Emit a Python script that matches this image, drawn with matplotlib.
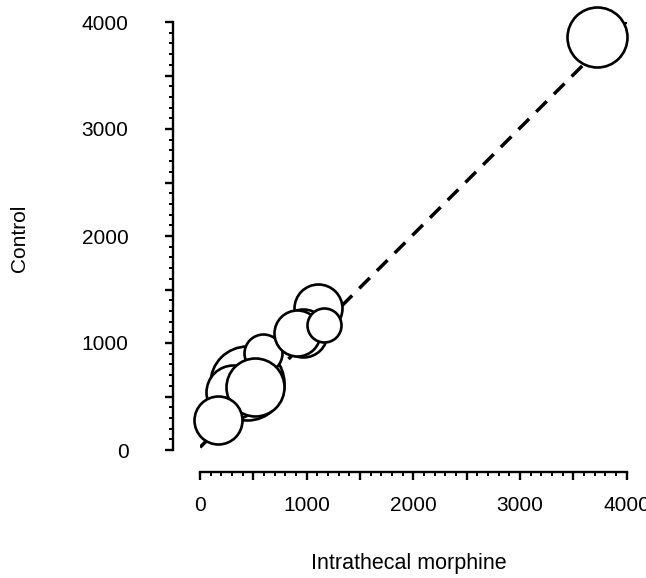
import matplotlib
matplotlib.use("Agg")
import matplotlib.pyplot as plt
from matplotlib.ticker import MultipleLocator, FuncFormatter

# bubble data (drawn back to front)
x_vals = [441, 309, 590, 516, 169, 1106, 966, 909, 1162, 3721]
y_vals = [626, 542, 907, 589, 280, 1327, 1093, 1093, 1168, 3860]
radius_px = [37, 27, 19, 29, 24, 24, 24, 23, 17, 30]

# fitted line
fit_x = [0, 4000]
fit_y = [25, 4005]

x_label = "Intrathecal morphine"
y_label = "Control"

plt.rcParams["font.family"] = ["Liberation Sans", "DejaVu Sans"]

W, H = 646, 578
fig = plt.figure(figsize=(W / 100, H / 100), dpi=100)
x0, x1 = 200, 626.7
y0, y1 = 450, 22
ax = fig.add_axes([x0 / W, (H - y0) / H, (x1 - x0) / W, (y0 - y1) / H])
ax.set_xlim(0, 4000)
ax.set_ylim(0, 4000)

ax.plot(fit_x, fit_y, color="black", lw=2.5, ls=(0, (4.3, 2.9)), zorder=1,
        dash_capstyle="butt")

sizes = [(2 * r * 0.72) ** 2 for r in radius_px]
for xi, yi, s in zip(x_vals, y_vals, sizes):
    ax.scatter([xi], [yi], s=s, facecolor="white", edgecolor="black",
               linewidths=1.9, zorder=2, clip_on=False)

for side in ("top", "right"):
    ax.spines[side].set_visible(False)
ax.spines["left"].set_position(("outward", 27 * 0.72))
ax.spines["bottom"].set_position(("outward", 22 * 0.72))
for side in ("left", "bottom"):
    ax.spines[side].set_linewidth(1.7)

ax.xaxis.set_major_locator(MultipleLocator(500))
ax.yaxis.set_major_locator(MultipleLocator(500))
ax.xaxis.set_minor_locator(MultipleLocator(100))
ax.yaxis.set_minor_locator(MultipleLocator(100))
fmt = FuncFormatter(lambda v, p: f"{int(v)}" if int(v) % 1000 == 0 else "")
ax.xaxis.set_major_formatter(fmt)
ax.yaxis.set_major_formatter(fmt)
ax.tick_params(which="major", length=6, width=1.7, labelsize=15, color="black")
ax.tick_params(which="minor", length=3, width=1.4, color="black")
ax.tick_params(axis="y", which="major", pad=26)
ax.tick_params(axis="x", which="major", pad=11)

fig.text(409 / W, 1 - 563 / H, x_label, ha="center", va="center", fontsize=15.5)
fig.text(20 / W, 1 - 238 / H, y_label, ha="center", va="center", fontsize=15,
         rotation=90)

fig.savefig("out.png", dpi=100)
